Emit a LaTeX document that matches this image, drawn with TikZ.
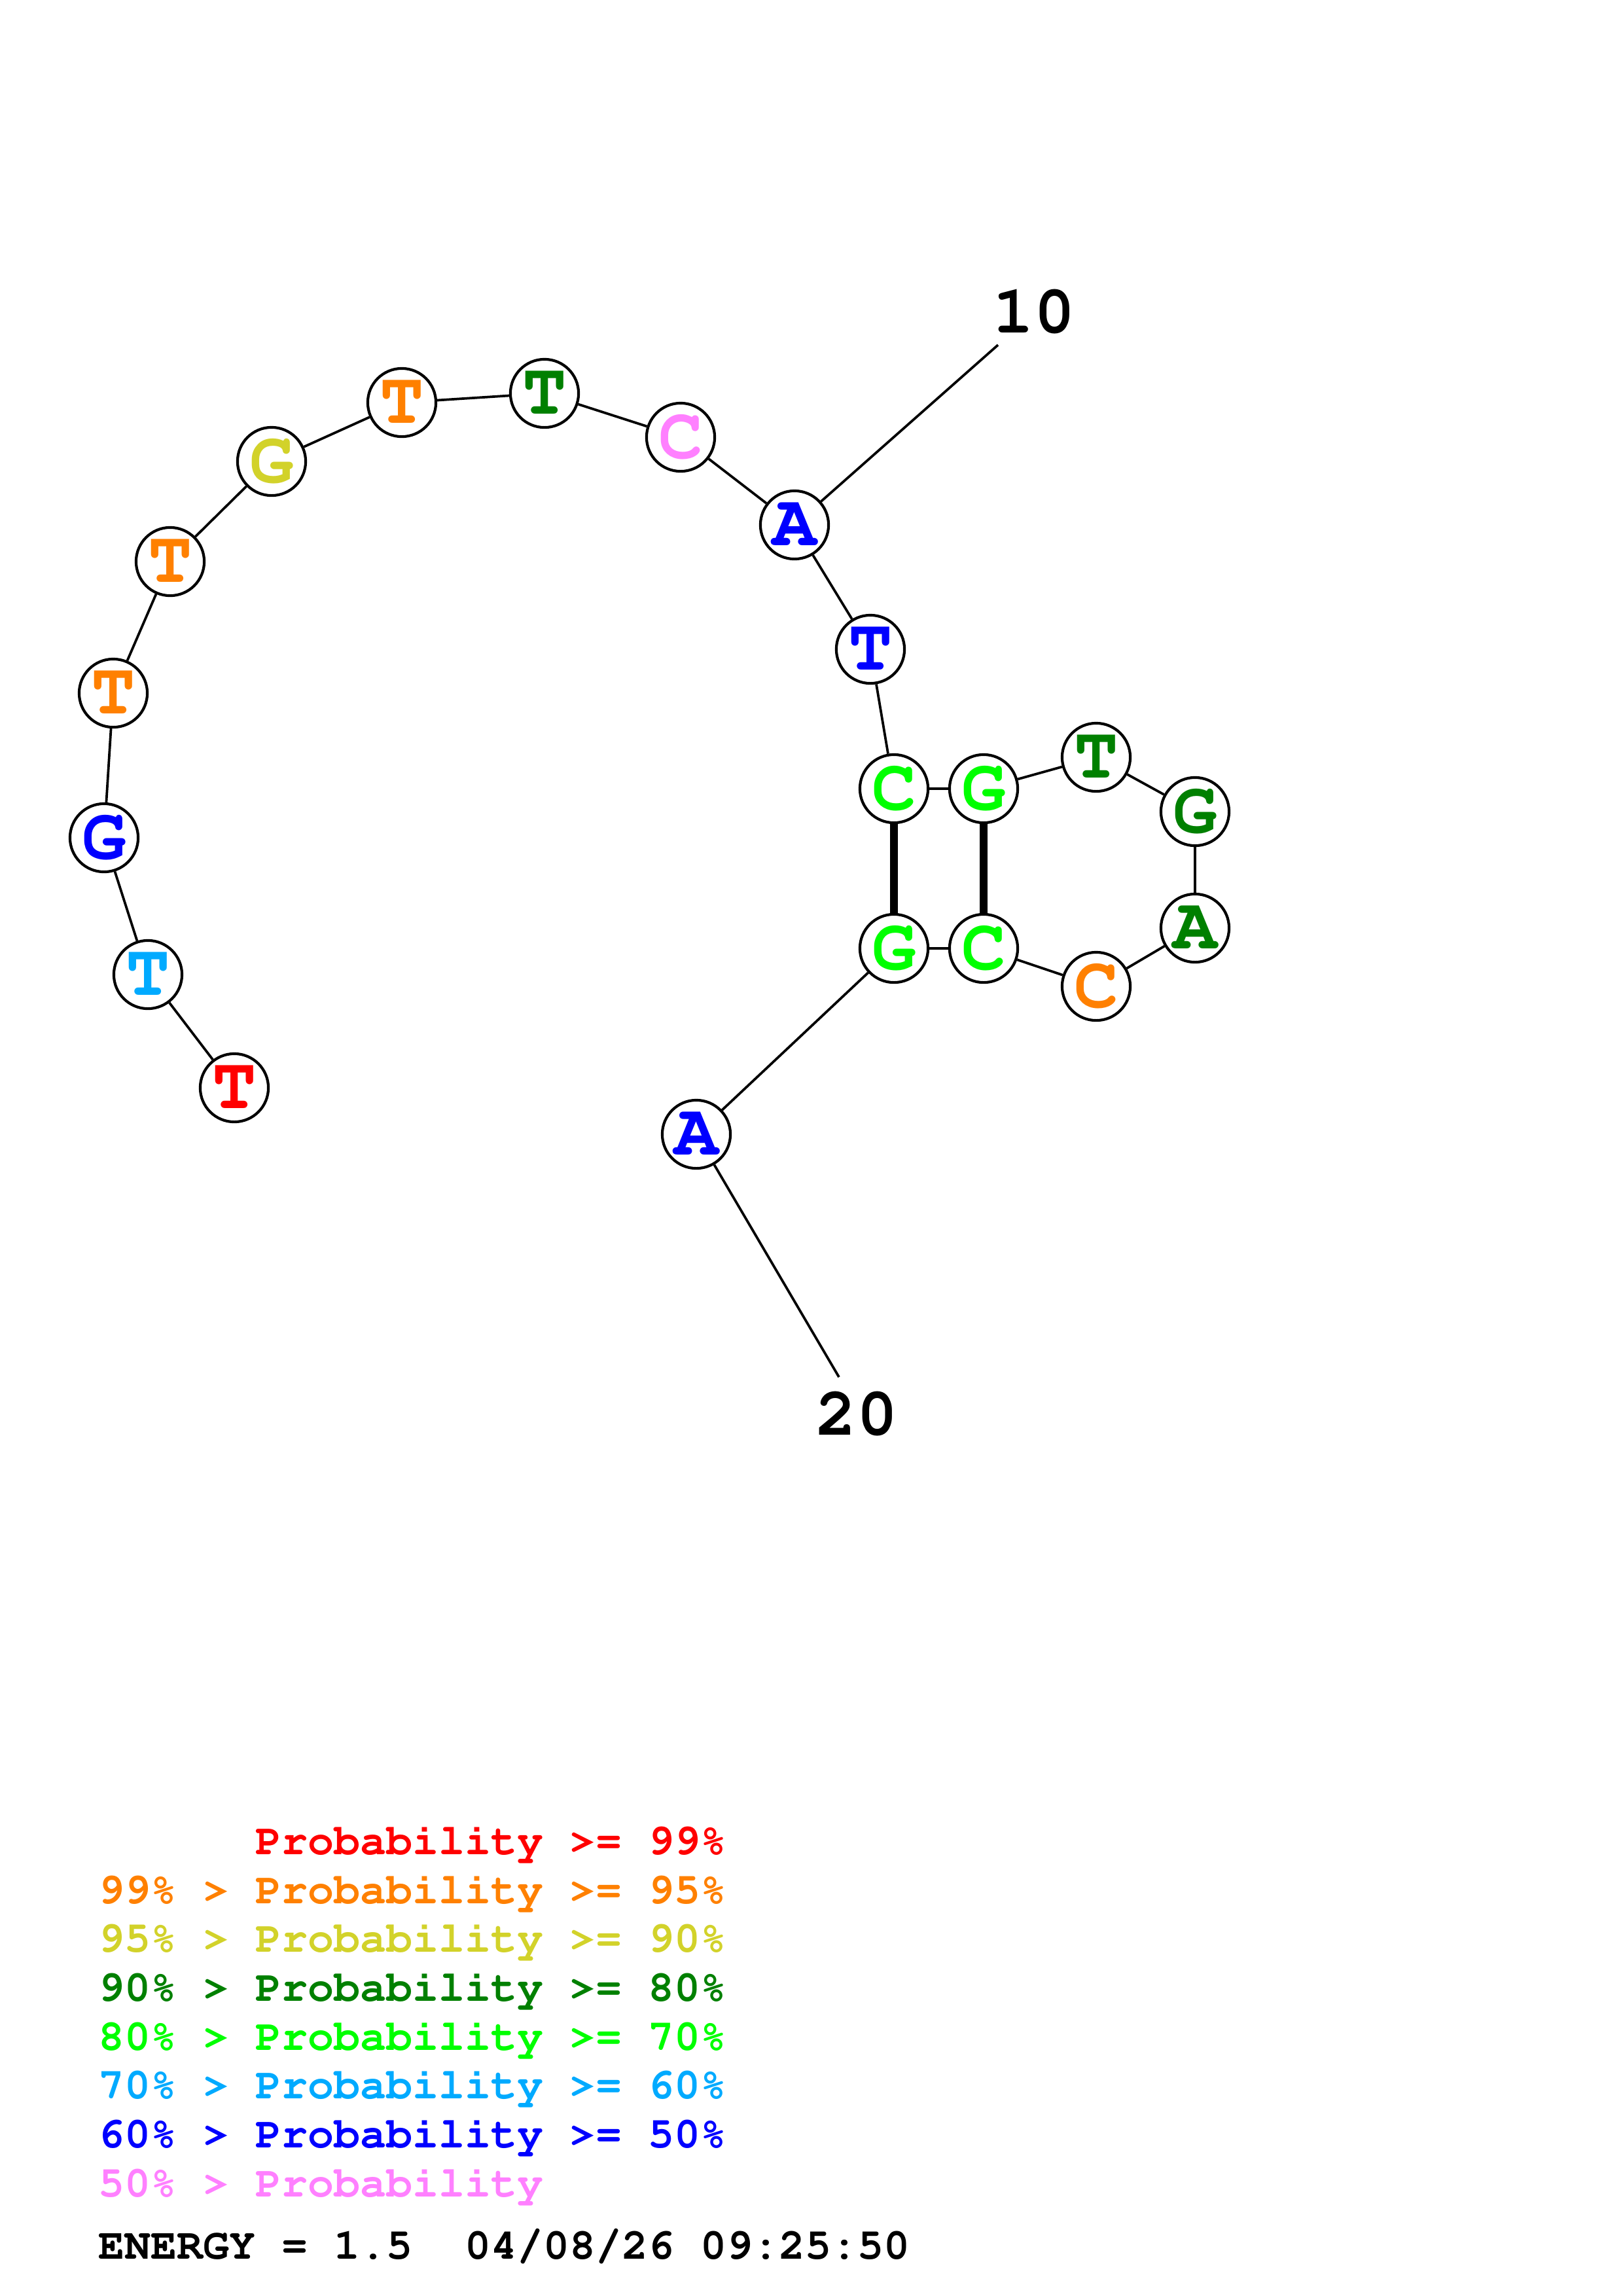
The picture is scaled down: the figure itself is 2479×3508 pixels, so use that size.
\documentclass[tikz,border=0pt]{standalone}
\usepackage[T1]{fontenc}
\usepackage{fontspec}
\setmonofont{Liberation Mono}
\usepackage{xcolor}
\definecolor{pred}{HTML}{FF0000}
\definecolor{porange}{HTML}{FF8000}
\definecolor{pyellow}{HTML}{D2D22A}
\definecolor{pgreen}{HTML}{008000}
\definecolor{plime}{HTML}{00FF00}
\definecolor{psky}{HTML}{00AAFF}
\definecolor{pblue}{HTML}{0000FF}
\definecolor{ppink}{HTML}{FF80FF}
\usepackage{tikz}
\usetikzlibrary{positioning}
\newcommand{\courbf}{\fontencoding{T1}\fontfamily{pcr}\fontseries{b}\selectfont}
\tikzset{
  nuc/.style    ={circle,draw=black,fill=white,line width=1bp,
                  minimum size=25bp,inner sep=0pt,
                  font=\fontsize{27bp}{27bp}\courbf},
  bbone/.style  ={draw=black,line width=0.9bp},
  bpair/.style  ={draw=black,line width=2.7bp},
  tick/.style   ={font=\fontsize{25bp}{25bp}\courbf,inner sep=0pt},
  legend/.style ={anchor=base west,inner sep=0pt,
                  font=\fontsize{16bp}{16bp}\courbf},
}

\begin{document}
\begin{tikzpicture}[x=0.24bp,y=-0.24bp]
\useasboundingbox (0,0) rectangle (2479,3508);
% bases
\node[nuc,text=pred]    (b1)  at (358,1662) {T};
\node[nuc,text=psky]    (b2)  at (226,1489) {T};
\node[nuc,text=pblue]   (b3)  at (159,1280) {G};
\node[nuc,text=porange] (b4)  at (173,1059) {T};
\node[nuc,text=porange] (b5)  at (260,858)  {T};
\node[nuc,text=pyellow] (b6)  at (415,705)  {G};
\node[nuc,text=porange] (b7)  at (614,615)  {T};
\node[nuc,text=pgreen]  (b8)  at (832,601)  {T};
\node[nuc,text=ppink]   (b9)  at (1040,668) {C};
\node[nuc,text=pblue]   (b10) at (1214,802) {A};
\node[nuc,text=pblue]   (b11) at (1330,992) {T};
\node[nuc,text=plime]   (b12) at (1366,1205) {C};
\node[nuc,text=plime]   (b13) at (1503,1205) {G};
\node[nuc,text=pgreen]  (b14) at (1675,1157) {T};
\node[nuc,text=pgreen]  (b15) at (1826,1240) {G};
\node[nuc,text=pgreen]  (b16) at (1826,1418) {A};
\node[nuc,text=porange] (b17) at (1675,1507) {C};
\node[nuc,text=plime]   (b18) at (1503,1449) {C};
\node[nuc,text=plime]   (b19) at (1366,1449) {G};
\node[nuc,text=pblue]   (b20) at (1064,1733) {A};
% backbone
\draw[bbone] (b1)--(b2)--(b3)--(b4)--(b5)--(b6)--(b7)--(b8)--(b9)--(b10)
  --(b11)--(b12)--(b13)--(b14)--(b15)--(b16)--(b17)--(b18)--(b19)--(b20);
% pairs
\draw[bpair] (b12)--(b19);
\draw[bpair] (b13)--(b18);
% numbering
\coordinate (t10) at (1525,527);
\coordinate (t20) at (1282,2104);
\draw[bbone] (b10)--(t10);
\draw[bbone] (b20)--(t20);
\node[tick] (n10) at (1580,477) {10};
\node[tick] (n20) at (1309,2161) {20};
% legend
\node[legend,text=pred]    (l1) at (150,2833) {\phantom{99\% > }Probability >= 99\%};
\node[legend,text=porange] (l2) at (150,2908) {99\% > Probability >= 95\%};
\node[legend,text=pyellow] (l3) at (150,2982) {95\% > Probability >= 90\%};
\node[legend,text=pgreen]  (l4) at (150,3057) {90\% > Probability >= 80\%};
\node[legend,text=plime]   (l5) at (150,3132) {80\% > Probability >= 70\%};
\node[legend,text=psky]    (l6) at (150,3206) {70\% > Probability >= 60\%};
\node[legend,text=pblue]   (l7) at (150,3281) {60\% > Probability >= 50\%};
\node[legend,text=ppink]   (l8) at (150,3356) {50\% > Probability};
\node[legend]              (en) at (150,3451) {ENERGY = 1.5\ \ 04/08/26 09:25:50};
\end{tikzpicture}
\end{document}
